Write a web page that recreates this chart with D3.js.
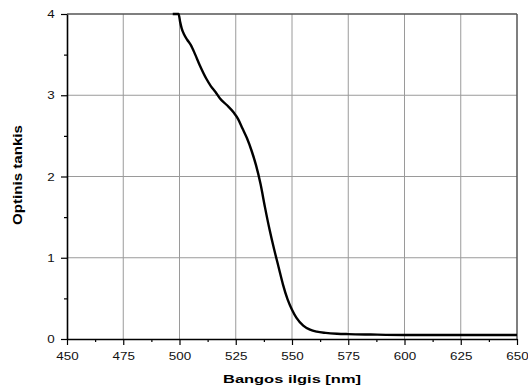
<!DOCTYPE html>
<html>
<head>
<meta charset="utf-8">
<script src="https://cdn.jsdelivr.net/npm/d3@7"></script>
<style>
  body { margin: 0; background: #fff; }
  text { font-family: "Liberation Sans", Arial, sans-serif; }
</style>
</head>
<body>
<div id="chart"></div>
<script>
const width = 528;
const height = 390;
const margin = { top: 14, right: 11, bottom: 51, left: 67 };

// absorption spectrum
const wavelength = [497, 499.6, 500.3, 501, 502, 503.5, 505, 507, 509, 512, 514, 516, 518, 521, 524, 526, 528, 530,
  532, 534, 536, 538, 540, 542, 544, 546, 548, 550, 552, 555, 558, 561, 565, 570, 575, 585, 600, 625, 650];
const density = [4.0, 4.0, 3.9, 3.82, 3.75, 3.68, 3.62, 3.5, 3.37, 3.2, 3.11, 3.04, 2.96, 2.88, 2.79, 2.71, 2.59, 2.47,
  2.32, 2.14, 1.91, 1.62, 1.35, 1.11, 0.89, 0.67, 0.49, 0.36, 0.26, 0.165, 0.115, 0.09, 0.075, 0.065, 0.06, 0.055, 0.05, 0.05, 0.05];

const xTicks = [450, 475, 500, 525, 550, 575, 600, 625, 650];
const xMinor = [462.5, 487.5, 512.5, 537.5, 562.5, 587.5, 612.5, 637.5];
const yTicks = [0, 1, 2, 3, 4];
const yMinor = [0.5, 1.5, 2.5, 3.5];

const xLabel = "Bangos ilgis [nm]";
const yLabel = "Optinis tankis";

const innerW = width - margin.left - margin.right;
const innerH = height - margin.top - margin.bottom;

const svg = d3.select("#chart")
  .append("svg")
  .attr("width", width)
  .attr("height", height);

const g = svg.append("g")
  .attr("transform", `translate(${margin.left}, ${margin.top})`);

const xScale = d3.scaleLinear().domain([450, 650]).range([0, innerW]);
const yScale = d3.scaleLinear().domain([0, 4]).range([innerH, 0]);

// grid
g.append("g")
  .selectAll("line")
  .data(xTicks.slice(1, -1))
  .enter()
  .append("line")
  .attr("x1", d => xScale(d)).attr("x2", d => xScale(d))
  .attr("y1", 0).attr("y2", innerH)
  .attr("stroke", "#9a9a9a").attr("stroke-width", 1);

g.append("g")
  .selectAll("line")
  .data(yTicks.slice(1, -1))
  .enter()
  .append("line")
  .attr("x1", 0).attr("x2", innerW)
  .attr("y1", d => yScale(d)).attr("y2", d => yScale(d))
  .attr("stroke", "#9a9a9a").attr("stroke-width", 1);

// top and right frame
g.append("line")
  .attr("x1", 0).attr("x2", innerW).attr("y1", 0).attr("y2", 0)
  .attr("stroke", "#555").attr("stroke-width", 1.5);
g.append("line")
  .attr("x1", innerW).attr("x2", innerW).attr("y1", 0).attr("y2", innerH)
  .attr("stroke", "#555").attr("stroke-width", 1.5);

// minor ticks
g.append("g")
  .attr("transform", `translate(0, ${innerH})`)
  .call(d3.axisBottom(xScale).tickValues(xMinor).tickSize(3).tickFormat(""))
  .call(a => a.select(".domain").remove())
  .selectAll("line").attr("stroke-width", 1.2);

g.append("g")
  .call(d3.axisLeft(yScale).tickValues(yMinor).tickSize(3).tickFormat(""))
  .call(a => a.select(".domain").remove())
  .selectAll("line").attr("stroke-width", 1.2);

// main axes
const xAxis = g.append("g")
  .attr("transform", `translate(0, ${innerH})`)
  .call(d3.axisBottom(xScale).tickValues(xTicks).tickFormat(d3.format("d"))
    .tickSize(6).tickPadding(7).tickSizeOuter(0));

const yAxis = g.append("g")
  .call(d3.axisLeft(yScale).tickValues(yTicks).tickFormat(d3.format("d"))
    .tickSize(6).tickPadding(4).tickSizeOuter(0));

[xAxis, yAxis].forEach(a => {
  a.select(".domain").attr("stroke", "#000").attr("stroke-width", 1.6);
  a.selectAll(".tick line").attr("stroke-width", 1.2);
  a.selectAll(".tick text")
    .attr("font-family", "Liberation Sans, Arial, sans-serif")
    .attr("font-size", 11)
    .attr("fill", "#111")
    .attr("transform", "scale(1.22,1)");
});

// curve
const points = wavelength.map((w, i) => [w, density[i]]);
const line = d3.line()
  .x(d => xScale(d[0]))
  .y(d => yScale(d[1]))
  .curve(d3.curveMonotoneX);

g.append("path")
  .datum(points)
  .attr("fill", "none")
  .attr("stroke", "#000")
  .attr("stroke-width", 2.4)
  .attr("stroke-linejoin", "round")
  .attr("d", line);

// axis titles
svg.append("text")
  .attr("x", 292)
  .attr("y", 383)
  .attr("text-anchor", "middle")
  .attr("font-family", "DejaVu Sans, sans-serif")
  .attr("font-weight", "bold")
  .attr("font-size", 11.5)
  .attr("textLength", 138)
  .attr("lengthAdjust", "spacingAndGlyphs")
  .text(xLabel);

svg.append("text")
  .attr("transform", "translate(22, 175) rotate(-90)")
  .attr("text-anchor", "middle")
  .attr("font-family", "DejaVu Sans, sans-serif")
  .attr("font-weight", "bold")
  .attr("font-size", 12)
  .attr("textLength", 100)
  .attr("lengthAdjust", "spacingAndGlyphs")
  .text(yLabel);
</script>
</body>
</html>
